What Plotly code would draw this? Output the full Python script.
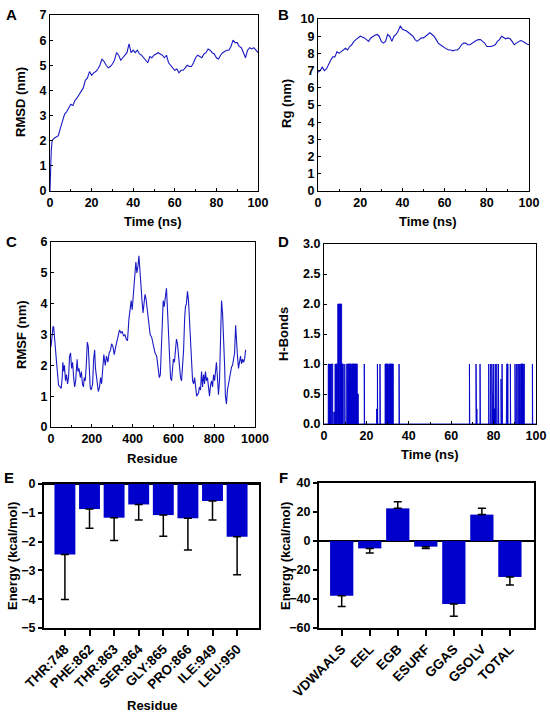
import plotly.graph_objects as go

W, H = 550, 714

# ---- data ----
rmsd_time = [0, 0.3, 0.6] + list(range(1, 101))
rmsd_nm = [0.0, 1.0, 1.6,
           2.0, 2.1, 2.15, 2.2, 2.5, 2.8, 3.05, 3.15, 3.3, 3.45,
           3.4, 3.6, 3.7, 3.85, 4.0, 4.1, 4.4, 4.5, 4.75, 4.6,
           4.7, 4.75, 4.85, 5.0, 5.25, 5.15, 5.0, 4.9, 4.95, 5.05,
           5.2, 5.5, 5.4, 5.2, 5.3, 5.4, 5.5, 5.85, 5.5, 5.6,
           5.5, 5.6, 5.45, 5.4, 5.3, 5.2, 5.1, 5.35, 5.3, 5.4,
           5.45, 5.5, 5.45, 5.4, 5.3, 5.4, 5.1, 5.0, 4.9, 4.8,
           4.85, 4.7, 4.8, 4.8, 4.9, 5.0, 4.95, 4.95, 5.1, 5.3,
           5.4, 5.35, 5.3, 5.45, 5.5, 5.65, 5.6, 5.5, 5.45, 5.3,
           5.25, 5.4, 5.5, 5.55, 5.6, 5.6, 5.75, 6.0, 5.9, 5.9,
           5.75, 5.7, 5.5, 5.3, 5.6, 5.7, 5.65, 5.7, 5.6, 5.5]

rg_time = list(range(0, 101))
rg_nm = [6.9, 7.0, 7.2, 7.0, 7.1, 7.4, 7.6, 7.8, 7.8, 8.1,
         8.0, 8.1, 8.2, 8.3, 8.2, 8.4, 8.5, 8.7, 8.8, 8.9,
         9.0, 8.95, 8.9, 8.8, 8.7, 8.9, 9.0, 9.05, 9.1, 9.0,
         8.7, 8.6, 8.7, 9.1, 9.0, 8.7, 9.0, 9.1, 9.3, 9.6,
         9.4, 9.35, 9.3, 9.2, 9.1, 9.0, 8.8, 8.7, 8.8, 8.9,
         8.9, 9.0, 9.1, 9.2, 9.1, 9.0, 8.8, 8.6, 8.5, 8.4,
         8.3, 8.25, 8.2, 8.2, 8.15, 8.2, 8.2, 8.3, 8.5, 8.6,
         8.6, 8.5, 8.5, 8.6, 8.7, 8.75, 8.8, 8.8, 8.7, 8.6,
         8.4, 8.4, 8.4, 8.45, 8.5, 8.7, 8.8, 9.0, 8.9, 8.85,
         8.9, 8.85, 8.7, 8.5, 8.6, 8.7, 8.75, 8.7, 8.6, 8.55, 8.5]

rmsf_residue = [0, 5, 10, 13, 16, 21, 26, 33, 37, 45, 50, 55, 58, 63, 66, 71, 76, 81, 86, 91,
                96, 101, 106, 111, 116, 121, 128, 132, 137, 144, 149, 154, 159, 163, 168, 173, 178, 183, 188, 192,
                197, 204, 209, 214, 218, 225, 232, 238, 243, 248, 255, 259, 266, 272, 279, 285, 292, 297, 304, 310,
                317, 323, 330, 336, 343, 349, 356, 362, 369, 375, 382, 388, 393, 398, 403, 409, 416, 421, 426, 431,
                436, 441, 446, 451, 456, 461, 466, 471, 476, 481, 486, 494, 502, 510, 518, 526, 531, 536, 540, 545,
                550, 555, 561, 566, 571, 576, 581, 586, 591, 596, 600, 605, 610, 615, 620, 625, 630, 635, 640, 645,
                650, 655, 659, 664, 669, 674, 679, 684, 689, 694, 699, 704, 709, 714, 718, 723, 728, 733, 738, 743,
                748, 753, 757, 762, 767, 772, 777, 782, 787, 792, 797, 802, 807, 811, 816, 821, 826, 831, 836, 841,
                846, 851, 855, 860, 865, 870, 875, 880, 885, 890, 895, 900, 905, 909, 914, 919, 924, 929, 934, 939,
                944, 949, 954]
rmsf_nm = [2.6, 3.0, 3.25, 3.25, 2.9, 2.6, 2.2, 1.7, 1.35, 1.3, 1.25, 1.6, 2.1, 1.8, 2.0, 1.5, 1.7, 1.4, 1.6, 2.3,
           2.4, 1.9, 2.1, 1.6, 1.3, 1.5, 2.2, 1.8, 1.9, 1.6, 1.8, 1.4, 1.3, 1.6, 1.5, 2.0, 2.75, 2.6, 1.6, 1.3,
           1.2, 1.4, 2.2, 2.5, 1.9, 1.5, 1.15, 1.3, 1.6, 1.4, 2.0, 2.35, 2.0, 2.3, 2.1, 2.4, 2.5, 2.7, 2.6, 2.35,
           2.6, 2.8, 3.0, 3.15, 3.05, 3.1, 2.95, 3.0, 2.85, 2.8, 3.5, 3.9, 4.1, 3.8, 4.2, 4.6, 5.35, 5.0, 5.2, 5.55,
           5.2, 4.6, 4.1, 3.7, 4.0, 4.3, 4.15, 3.9, 3.6, 3.3, 3.0, 2.9, 2.6, 2.4, 2.3, 1.9, 1.6, 1.7, 2.4, 3.2,
           4.1, 3.9, 4.3, 4.5, 3.8, 2.9, 2.2, 1.6, 1.5, 1.9, 2.2, 2.1, 2.6, 2.85, 2.7, 2.3, 1.8, 1.6, 1.5, 1.9,
           2.5, 3.5, 3.9, 4.0, 4.4, 4.1, 3.4, 2.7, 2.0, 1.5, 1.4, 1.6, 1.3, 1.0, 1.05, 1.1, 1.3, 1.2, 1.8, 1.3,
           1.7, 1.4, 1.8, 1.5, 1.6, 1.3, 1.0, 1.35, 1.5, 1.3, 1.7, 1.5, 1.9, 2.1, 1.6, 1.05, 1.5, 2.8, 4.1, 3.7,
           3.0, 2.0, 1.0, 0.75, 1.2, 1.4, 1.6, 1.7, 1.95, 2.0, 2.2, 2.4, 3.3, 2.7, 2.3, 1.9, 2.2, 2.3, 2.05, 2.2,
           2.1, 2.2, 2.5]

# H-bond occupancy: intervals (ns) and count level
hb_start = [2.0, 2.6, 3.0, 3.4, 4.6, 5.2, 5.6, 6.5, 7.1, 7.3, 8.3, 9.8, 10.7, 11.4, 12.9, 13.1, 15.7,
            19.0, 24.8, 25.2, 26.4, 28.8, 30.2, 30.5, 35.4,
            68.6, 71.7, 71.85, 73.6, 77.7, 78.6, 79.2, 79.35, 79.6, 80.0, 80.15, 80.8, 81.5, 82.3,
            83.5, 84.0, 86.0, 86.2, 87.9, 90.1, 90.9, 91.5, 92.0, 92.4, 92.8, 94.3, 98.3]
hb_end = [2.3, 2.7, 3.1, 4.1, 5.0, 5.4, 6.3, 7.1, 7.3, 8.3, 9.1, 9.95, 11.2, 12.9, 13.1, 15.7, 16.2,
          19.15, 25.2, 25.35, 26.55, 30.2, 30.5, 32.7, 35.55,
          68.75, 71.85, 72.2, 73.75, 77.85, 78.75, 79.35, 79.6, 80.0, 80.15, 80.8, 80.95, 81.65, 82.45,
          83.65, 84.15, 86.2, 86.8, 88.05, 90.25, 91.05, 91.65, 92.15, 92.55, 94.0, 94.5, 98.45]
hb_level = [1, 1, 1, 1, 0.2, 1, 1, 2, 1.75, 2, 1, 1, 1, 1, 0.35, 1, 0.5,
            1, 0.25, 1, 1, 1, 0.2, 1, 1,
            1, 1, 0.25, 1, 1, 1, 1, 0.5, 0.25, 1, 0.25, 1, 1, 1,
            0.75, 1, 0.5, 1, 1, 1, 1, 1, 1, 1, 1, 1, 1]

residues = ["THR:748", "PHE:862", "THR:863", "SER:864", "GLY:865", "PRO:866", "ILE:949", "LEU:950"]
residue_energy = [-2.45, -0.87, -1.17, -0.71, -1.08, -1.19, -0.59, -1.83]
residue_err = [1.56, 0.67, 0.79, 0.54, 0.73, 1.10, 0.66, 1.32]

terms = ["VDWAALS", "EEL", "EGB", "ESURF", "GGAS", "GSOLV", "TOTAL"]
term_energy = [-37.7, -5.1, 22.5, -3.9, -43.4, 18.2, -24.8]
term_err = [7.4, 3.2, 4.6, 1.2, 8.5, 4.3, 5.5]

LINE_BLUE = "#1a1ac4"
BAR_BLUE = "#0000cc"
FONT = "Liberation Sans, Arial, sans-serif"


def px_x(p):
    return p / W


def px_y(p):
    return 1 - p / H


# step outline for the H-bond panel
hb_x, hb_y = [0], [0]
for s, e, lvl in zip(hb_start, hb_end, hb_level):
    hb_x += [s, s, e, e]
    hb_y += [0, lvl, lvl, 0]
hb_x.append(100)
hb_y.append(0)

fig = go.Figure()
fig.add_trace(go.Scatter(x=rmsd_time, y=rmsd_nm, mode="lines", line=dict(color=LINE_BLUE, width=1.1),
                         xaxis="x", yaxis="y"))
fig.add_trace(go.Scatter(x=rg_time, y=rg_nm, mode="lines", line=dict(color=LINE_BLUE, width=1.1),
                         xaxis="x2", yaxis="y2"))
fig.add_trace(go.Scatter(x=rmsf_residue, y=rmsf_nm, mode="lines", line=dict(color=LINE_BLUE, width=1.1),
                         xaxis="x3", yaxis="y3"))
fig.add_trace(go.Scatter(x=hb_x, y=hb_y, mode="lines", fill="tozeroy", fillcolor=BAR_BLUE,
                         line=dict(color=BAR_BLUE, width=0.9), xaxis="x4", yaxis="y4"))
fig.add_trace(go.Bar(x=residues, y=residue_energy, marker=dict(color=BAR_BLUE, line=dict(width=0)),
                     width=0.85,
                     error_y=dict(type="data", symmetric=False, array=[0] * len(residue_err),
                                  arrayminus=residue_err, color="black", thickness=1.5, width=4),
                     xaxis="x5", yaxis="y5"))
fig.add_trace(go.Bar(x=terms, y=term_energy, marker=dict(color=BAR_BLUE, line=dict(width=0)),
                     width=0.83,
                     error_y=dict(type="data", symmetric=False,
                                  array=[e if v > 0 else 0 for v, e in zip(term_energy, term_err)],
                                  arrayminus=[e if v < 0 else 0 for v, e in zip(term_energy, term_err)],
                                  color="black", thickness=1.5, width=4),
                     xaxis="x6", yaxis="y6"))

tick_font = dict(family=FONT, size=12.5, color="black", weight="bold")


def line_axis(dom, rng, dtick, anchor, minor_dtick=None, fmt=None):
    ax = dict(domain=dom, range=rng, dtick=dtick, anchor=anchor, showgrid=False, zeroline=False,
              showline=True, mirror=True, linecolor="black", linewidth=1, automargin=False,
              ticks="inside", ticklen=3, tickcolor="black", tickfont=tick_font)
    if minor_dtick:
        ax["minor"] = dict(dtick=minor_dtick, ticks="inside", ticklen=2, tickcolor="black")
    if fmt:
        ax["tickformat"] = fmt
    return ax


def bar_axis_y(dom, rng, dtick, anchor):
    return dict(domain=dom, range=rng, dtick=dtick, anchor=anchor, showgrid=False,
                zeroline=True, zerolinecolor="black", zerolinewidth=1.5, automargin=False,
                showline=True, mirror=True, linecolor="black", linewidth=2,
                ticks="outside", ticklen=4, tickwidth=1.5, tickcolor="black", tickfont=tick_font,
                layer="above traces")


def bar_axis_x(dom, rng, anchor):
    return dict(domain=dom, range=rng, anchor=anchor, showgrid=False, zeroline=False, automargin=False,
                showline=True, mirror=True, linecolor="black", linewidth=2,
                ticks="outside", ticklen=6, tickwidth=1.5, tickcolor="black",
                tickangle=-45, tickfont=dict(family=FONT, size=13.5, color="black", weight="bold"))


fig.update_layout(
    width=W, height=H, margin=dict(l=0, r=0, t=0, b=0, autoexpand=False),
    paper_bgcolor="white", plot_bgcolor="white", showlegend=False,
    font=dict(family=FONT, color="black"),
    xaxis=line_axis([px_x(50), px_x(258)], [0, 100], 20, "y", 10),
    yaxis=line_axis([px_y(191), px_y(15)], [0, 7], 1, "x"),
    xaxis2=line_axis([px_x(318), px_x(529)], [0, 100], 20, "y2", 10),
    yaxis2=line_axis([px_y(191), px_y(19)], [0, 10], 1, "x2"),
    xaxis3=line_axis([px_x(51), px_x(255)], [0, 1000], 200, "y3", 100),
    yaxis3=line_axis([px_y(427), px_y(242)], [0, 6], 1, "x3"),
    xaxis4=line_axis([px_x(324), px_x(536)], [0, 100], 20, "y4", 10),
    yaxis4=line_axis([px_y(424), px_y(244)], [0, 3], 0.5, "x4", None, ".1f"),
    xaxis5=bar_axis_x([px_x(44), px_x(259)], [-0.85, 7.89], "y5"),
    yaxis5=bar_axis_y([px_y(628), px_y(484)], [-5, 0], 1, "x5"),
    xaxis6=bar_axis_x([px_x(319), px_x(534)], [-0.81, 6.86], "y6"),
    yaxis6=bar_axis_y([px_y(628), px_y(483)], [-60, 40], 20, "x6"),
)

# panel letters and axis titles
labels = [
    ("A", 11, 14), ("B", 283, 14), ("C", 11, 241), ("D", 283, 241),
    ("E", 9, 478), ("F", 283, 478),
]
for txt, x, y in labels:
    fig.add_annotation(text=txt, x=px_x(x), y=px_y(y), xref="paper", yref="paper", showarrow=False,
                       xanchor="center", yanchor="middle",
                       font=dict(family=FONT, size=15, color="black", weight="bold"))

titles = [
    ("Time (ns)", 153, 221, 0), ("RMSD (nm)", 21, 102, -90),
    ("Time (ns)", 428, 221, 0), ("Rg (nm)", 286, 104, -90),
    ("Residue", 152, 458, 0), ("RMSF (nm)", 21, 335, -90),
    ("Time (ns)", 430, 454, 0), ("H-Bonds", 283, 334, -90),
    ("Residue", 152, 705, 0), ("Energy (kcal/mol)", 12, 556, -90),
    ("Energy (kcal/mol)", 285, 556, -90),
]
for txt, x, y, ang in titles:
    fig.add_annotation(text=txt, x=px_x(x), y=px_y(y), xref="paper", yref="paper", showarrow=False,
                       xanchor="center", yanchor="middle", textangle=ang,
                       font=dict(family=FONT, size=13, color="black", weight="bold"))

# the page body has a default 8px margin; drop it so the figure sits at the window origin
fig.write_html("out.html", config={"displayModeBar": False},
               post_script="document.body.style.margin='0';")
